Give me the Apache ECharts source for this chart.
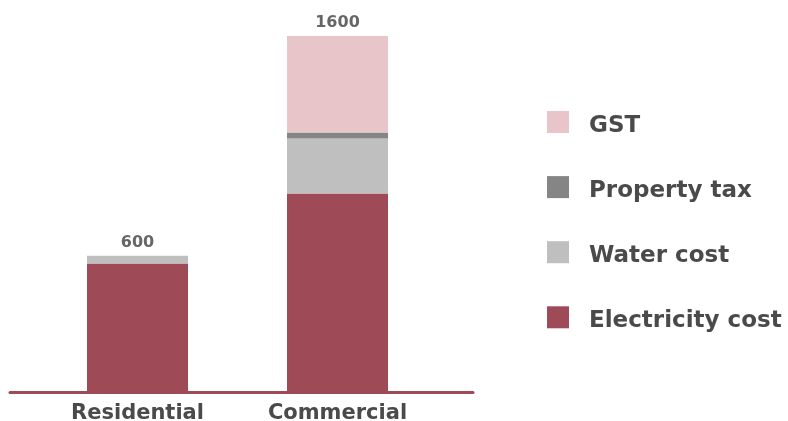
<!DOCTYPE html>
<html><head><meta charset="utf-8">
<script src="https://cdn.jsdelivr.net/npm/echarts@6/dist/echarts.min.js"></script>
<style>html,body{margin:0;padding:0;background:#fff}#c{width:788px;height:421px}</style>
</head><body><div id="c"></div>
<script>
const categories = ['Residential', 'Commercial'];
const electricity = [575, 890];
const water = [35, 248];
const propertyTax = [0, 27];
const gst = [0, 435];
const totals = [600, 1600];
const legendOrder = ['GST', 'Property tax', 'Water cost', 'Electricity cost'];

const FONT = 'DejaVu Sans';
const chart = echarts.init(document.getElementById('c'));
function seg(name, data, color) {
  return { name, type: 'bar', stack: 's', data, barWidth: 101, itemStyle: { color }, xAxisIndex: 0, yAxisIndex: 0, silent: true };
}
chart.setOption({
  animation: false,
  grid: [
    { left: 37.5, width: 400, top: 36, bottom: 30, outerBoundsMode: 'none', containLabel: false },
    { left: 10, width: 463, top: 36, bottom: 29, outerBoundsMode: 'none', containLabel: false }
  ],
  xAxis: [
    { type: 'category', data: categories, gridIndex: 0,
      axisLine: { show: false }, axisTick: { show: false },
      axisLabel: { fontFamily: FONT, fontSize: 21, fontWeight: 'bold', color: '#4a4a4a', margin: 12 } },
    { type: 'value', gridIndex: 1, min: 0, max: 1,
      axisLine: { show: true, lineStyle: { color: '#9e4a57', width: 3 } },
      axisTick: { show: false }, axisLabel: { show: false }, splitLine: { show: false } }
  ],
  yAxis: [
    { type: 'value', gridIndex: 0, min: 0, max: 1600, show: false, splitLine: { show: false } },
    { type: 'value', gridIndex: 1, min: 0, max: 1, show: false, splitLine: { show: false } }
  ],
  legend: {
    data: legendOrder, orient: 'vertical', left: 542, top: 106,
    itemWidth: 22, itemHeight: 22, itemGap: 38.6, icon: 'rect',
    formatter: name => '{t|' + name + '}',
    textStyle: { fontFamily: FONT, fontSize: 23, fontWeight: 'bold', color: '#4a4a4a', padding: [0, 0, 0, 15],
      rich: { t: { fontFamily: FONT, fontSize: 23, fontWeight: 'bold', color: '#4a4a4a', padding: [8, 0, 0, 0] } } }
  },
  series: [
    seg('Electricity cost', electricity, '#9e4a57'),
    seg('Water cost', water, '#bfbfbf'),
    seg('Property tax', propertyTax, '#858585'),
    seg('GST', gst, '#e8c5c9'),
    { name: 'total', type: 'bar', stack: 's', barWidth: 101, data: categories.map(() => 0),
      itemStyle: { color: 'transparent' }, silent: true,
      label: { show: true, position: 'top', distance: 5, fontFamily: FONT, fontSize: 16, fontWeight: 'bold', color: '#666',
        formatter: p => String(totals[p.dataIndex]) } }
  ]
});
</script></body></html>
